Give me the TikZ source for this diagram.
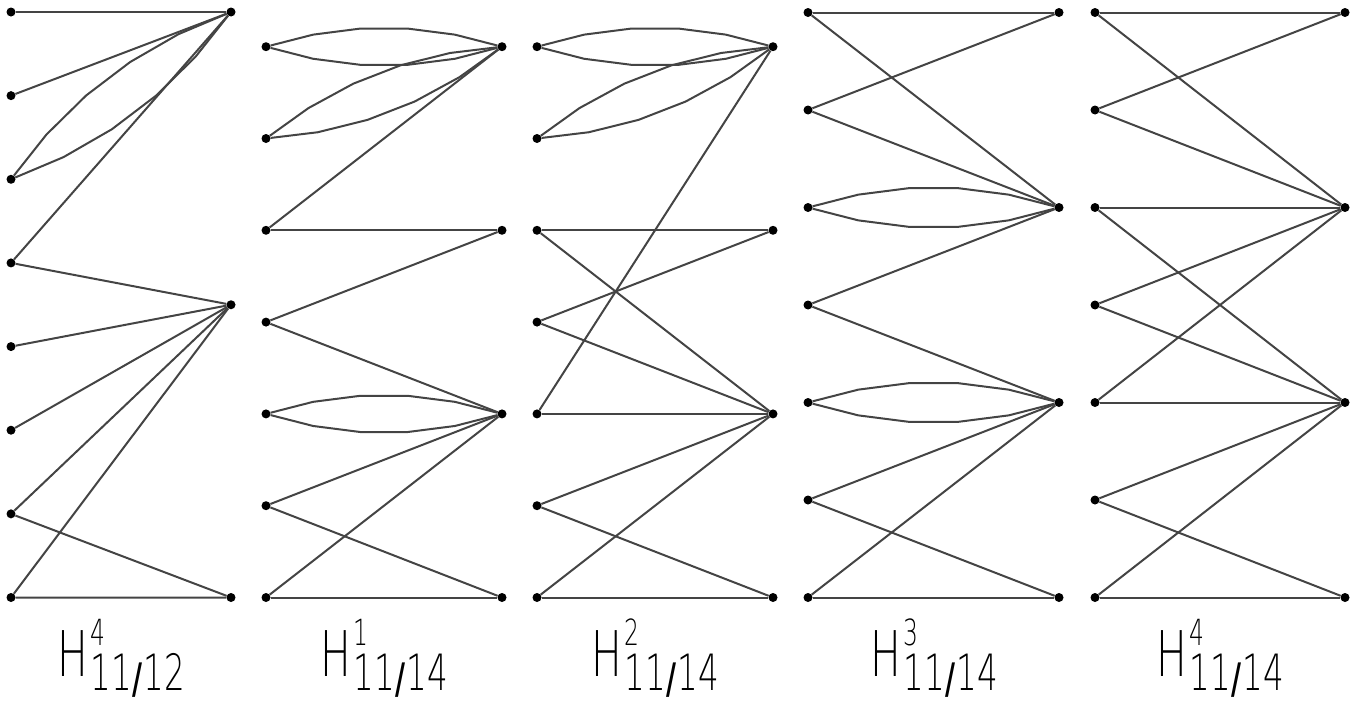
\documentclass[tikz,border=0pt]{standalone}
\usepackage{fontspec}
\usepackage{graphicx}
\usetikzlibrary{calc}
\IfFontExistsTF{DejaVu Sans ExtraLight}
  {\newfontfamily\thinfont{DejaVu Sans ExtraLight}}
  {\newfontfamily\thinfont{Latin Modern Sans}}
\newfontfamily\slashfont{DejaVu Sans}
\definecolor{edgegray}{HTML}{444444}
\tikzset{
  vtx/.style={circle, fill=black, inner sep=0pt, minimum size=9pt},
  edge/.style={draw=edgegray, line width=2pt, line join=round},
  lab/.style={anchor=base, inner sep=0pt},
}
\newcommand\lensside[3]{%
  \draw[edge] (#1) -- ($(#1)!0.2!(#2)!0.064!#3:(#2)$) -- ($(#1)!0.4!(#2)!0.128!#3:(#2)$)
    -- ($(#1)!0.6!(#2)!0.192!#3:(#2)$) -- ($(#1)!0.8!(#2)!0.256!#3:(#2)$) -- (#2);}
\newcommand\lens[2]{\lensside{#1}{#2}{90}\lensside{#1}{#2}{-90}}
\newcommand\hlab[3]{%
  \scalebox{0.65}[1]{\fontsize{63pt}{63pt}\thinfont H}%
  \kern3pt
  \rlap{\raisebox{31pt}{\scalebox{0.65}[1]{\fontsize{36pt}{36pt}\thinfont #1}}}%
  \raisebox{-14pt}{\scalebox{0.65}[1]{\fontsize{50pt}{50pt}\thinfont #2%
    \kern1pt\raisebox{-3pt}{\fontsize{42pt}{42pt}\slashfont\bfseries /}\kern1pt#3}}}
\begin{document}
\begin{tikzpicture}[x=1pt,y=-1pt]
\useasboundingbox (0,0) rectangle (1364,704);
% ---------- nodes ----------
\foreach \i in {1,...,8} \node[vtx] (A\i) at (11,{12+(\i-1)*83.643}) {};
\foreach \i in {1,...,3} \node[vtx] (AR\i) at (231,{12+(\i-1)*292.75}) {};
\foreach \i in {1,...,7} {
  \node[vtx] (B\i) at (266,{46.7+(\i-1)*91.8}) {};
  \node[vtx] (C\i) at (537,{46.7+(\i-1)*91.8}) {};
  \node[vtx] (D\i) at (808,{12.5+(\i-1)*97.5}) {};
  \node[vtx] (E\i) at (1095,{12.5+(\i-1)*97.5}) {};
}
\foreach \i in {1,...,4} {
  \node[vtx] (BR\i) at (502,{46.7+(\i-1)*183.6}) {};
  \node[vtx] (CR\i) at (773,{46.7+(\i-1)*183.6}) {};
  \node[vtx] (DR\i) at (1059,{12.5+(\i-1)*195}) {};
  \node[vtx] (ER\i) at (1345,{12.5+(\i-1)*195}) {};
}
% ---------- panel A ----------
\draw[edge] (A1) -- (AR1);
\draw[edge] (A2) -- (AR1);
\lens{A3}{AR1}
\draw[edge] (A4) -- (AR1);
\draw[edge] (A4) -- (AR2);
\draw[edge] (A5) -- (AR2);
\draw[edge] (A6) -- (AR2);
\draw[edge] (A7) -- (AR2);
\draw[edge] (A8) -- (AR2);
\draw[edge] (A7) -- (AR3);
\draw[edge] (A8) -- (AR3);
% ---------- panel B ----------
\lens{B1}{BR1}
\lens{B2}{BR1}
\draw[edge] (B3) -- (BR1);
\draw[edge] (B3) -- (BR2);
\draw[edge] (B4) -- (BR2);
\draw[edge] (B4) -- (BR3);
\lens{B5}{BR3}
\draw[edge] (B6) -- (BR3);
\draw[edge] (B7) -- (BR3);
\draw[edge] (B6) -- (BR4);
\draw[edge] (B7) -- (BR4);
% ---------- panel C ----------
\lens{C1}{CR1}
\lens{C2}{CR1}
\draw[edge] (C5) -- (CR1);
\draw[edge] (C3) -- (CR2);
\draw[edge] (C3) -- (CR3);
\draw[edge] (C4) -- (CR2);
\draw[edge] (C4) -- (CR3);
\draw[edge] (C5) -- (CR3);
\draw[edge] (C6) -- (CR3);
\draw[edge] (C7) -- (CR3);
\draw[edge] (C6) -- (CR4);
\draw[edge] (C7) -- (CR4);
% ---------- panel D ----------
\draw[edge] (D1) -- (DR1);
\draw[edge] (D1) -- (DR2);
\draw[edge] (D2) -- (DR1);
\draw[edge] (D2) -- (DR2);
\lens{D3}{DR2}
\draw[edge] (D4) -- (DR2);
\draw[edge] (D4) -- (DR3);
\lens{D5}{DR3}
\draw[edge] (D6) -- (DR3);
\draw[edge] (D7) -- (DR3);
\draw[edge] (D6) -- (DR4);
\draw[edge] (D7) -- (DR4);
% ---------- panel E ----------
\draw[edge] (E1) -- (ER1);
\draw[edge] (E1) -- (ER2);
\draw[edge] (E2) -- (ER1);
\draw[edge] (E2) -- (ER2);
\draw[edge] (E3) -- (ER2);
\draw[edge] (E3) -- (ER3);
\draw[edge] (E4) -- (ER2);
\draw[edge] (E4) -- (ER3);
\draw[edge] (E5) -- (ER2);
\draw[edge] (E5) -- (ER3);
\draw[edge] (E6) -- (ER3);
\draw[edge] (E7) -- (ER3);
\draw[edge] (E6) -- (ER4);
\draw[edge] (E7) -- (ER4);
% ---------- labels ----------
\node[lab] (labA) at (121,676) {\hlab{4}{11}{12}};
\node[lab] (labB) at (384,676) {\hlab{1}{11}{14}};
\node[lab] (labC) at (655,676) {\hlab{2}{11}{14}};
\node[lab] (labD) at (934,676) {\hlab{3}{11}{14}};
\node[lab] (labE) at (1220,676) {\hlab{4}{11}{14}};
\end{tikzpicture}
\end{document}
